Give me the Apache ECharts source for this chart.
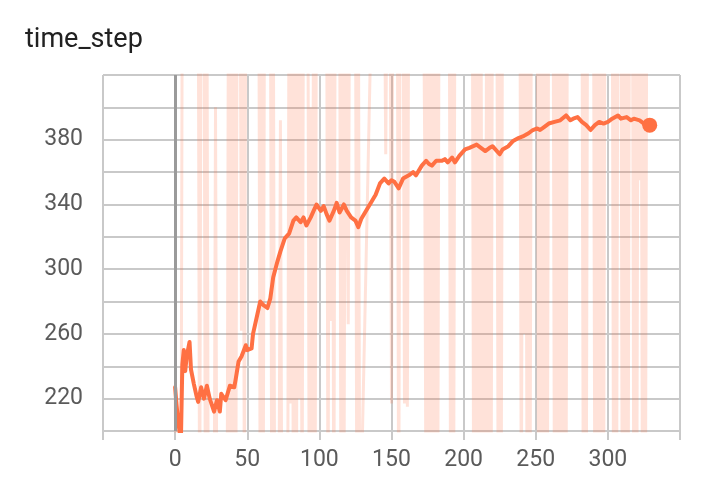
<!DOCTYPE html>
<html>
<head>
<meta charset="utf-8">
<script src="https://cdn.jsdelivr.net/npm/echarts@6/dist/echarts.min.js"></script>
<style>
html,body{margin:0;padding:0;background:#fff;}
#chart{width:722px;height:481px;}
</style>
</head>
<body>
<div id="chart"></div>
<script>
var titleText = 'time_step';
var xTickLabels = [0, 50, 100, 150, 200, 250, 300];
var yTickLabels = [220, 260, 300, 340, 380];

var smoothSteps = [0,1,2,3,4,5,6,7,8,10,11,13,15,16,18,20,22,24,27,29,31,32,35,38,41,42,44,46,49,50,53,54,57,59,61,64,66,68,71,73,76,79,82,84,87,89,91,94,96,98,101,103,105,107,110,112,114,117,119,122,125,127,129,133,135,139,142,145,148,150,152,155,158,162,165,167,171,174,176,178,181,185,187,189,192,194,197,201,204,209,212,215,218,220,225,227,231,234,238,241,245,248,251,253,256,259,263,267,271,274,276,279,282,285,288,291,294,297,300,303,307,309,313,316,318,322,325,329];
var smoothValues = [227,216,207,200,194,241,250,237,246,255,238,229,221,218,227,220,228,220,212,219,212,223,219,228,227,232,243,246,253,250,251,260,272,280,278,276,282,295,305,311,319,322,330,332,329,332,327,332,336,340,336,339,334,330,336,341,335,340,336,332,330,326,331,337,340,346,353,356,353,355,354,350,356,358,360,358,364,367,365,364,367,367,368,366,369,366,370,374,375,377,375,373,375,376,371,374,376,379,381,382,384,386,387,386,388,390,391,392,395,392,393,394,391,389,386,389,391,390,391,393,395,393,394,392,393,392,390,389];

var rawSteps = [0,1,4,5,16,17,18,20,21,22,23,27,28,29,36,37,38,39,40,41,42,43,45,46,47,48,49,58,59,60,61,62,66,67,68,69,72,73,74,78,79,80,81,82,83,84,85,86,87,88,89,92,93,94,95,96,97,98,105,106,107,108,109,110,111,114,115,116,117,118,119,120,121,125,126,127,128,137,145,146,147,149,150,151,154,155,156,158,159,160,161,162,172,173,174,175,176,177,178,179,180,181,182,183,190,191,192,193,194,206,207,208,209,210,211,212,213,214,215,216,217,218,219,220,223,224,225,226,227,239,240,241,242,243,244,245,246,247,251,252,253,254,255,256,257,258,259,262,263,264,265,266,267,268,269,270,271,272,282,283,284,285,286,290,291,292,293,294,295,296,297,298,303,304,305,306,307,309,310,311,312,313,314,315,317,318,319,320,321,322,323,324,325,326,327,329];
var rawValues = [228,130,110,500,500,120,500,500,130,500,120,120,400,120,120,500,140,500,120,500,110,500,500,262,500,150,500,500,130,500,120,500,500,130,500,140,140,392,130,130,500,217,500,120,500,110,500,220,500,130,500,500,120,400,130,500,140,500,500,130,500,268,500,120,500,500,130,500,120,500,500,266,500,500,120,500,120,500,500,371,500,500,217,500,500,120,500,500,217,500,215,500,500,378,120,500,130,500,120,500,110,500,120,500,500,130,500,120,500,500,120,500,110,500,130,500,120,380,120,500,130,500,120,500,500,120,500,130,500,500,130,500,260,500,140,500,120,500,500,120,500,130,500,120,500,125,500,500,130,500,140,500,120,500,130,500,150,500,500,130,500,140,500,500,120,500,130,500,150,500,130,500,500,120,500,130,500,500,120,500,140,500,120,500,500,130,500,120,500,355,500,130,500,120,500,500];

function zip(a, b) { var r = []; for (var i = 0; i < a.length; i++) r.push([a[i], b[i]]); return r; }

var chart = echarts.init(document.getElementById('chart'), null, {renderer: 'canvas'});
var gridColor = '#c9c9c9';
var labelColor = '#5a5a5a';
var font = 'Roboto, "Noto Sans", sans-serif';
var last = smoothSteps.length - 1;

chart.setOption({
  animation: false,
  backgroundColor: '#fff',
  title: {
    text: titleText, left: 20, top: 22,
    textStyle: {fontFamily: font, fontSize: 27, fontWeight: 'normal', color: '#212121'}
  },
  grid: {left: 103, right: 42, top: 75, bottom: 50, containLabel: false},
  xAxis: {
    type: 'value', min: -50, max: 350, interval: 50,
    axisLine: {show: true, lineStyle: {color: gridColor, width: 2}},
    axisTick: {show: true, length: 9, lineStyle: {color: gridColor, width: 2}},
    splitLine: {show: true, lineStyle: {color: gridColor, width: 2}},
    axisLabel: {
      margin: 18, color: labelColor, fontFamily: font, fontSize: 23,
      formatter: function (v) { return xTickLabels.indexOf(v) >= 0 ? String(v) : ''; }
    }
  },
  yAxis: {
    type: 'value', min: 200, max: 420, interval: 20,
    axisLine: {show: false},
    axisTick: {show: true, length: 10, lineStyle: {color: gridColor, width: 2}},
    splitLine: {show: true, lineStyle: {color: gridColor, width: 2}},
    axisLabel: {
      margin: 20, color: labelColor, fontFamily: font, fontSize: 23,
      formatter: function (v) { return yTickLabels.indexOf(v) >= 0 ? String(v) : ''; }
    }
  },
  series: [
    {
      type: 'line', data: zip(rawSteps, rawValues), showSymbol: false, symbol: 'none',
      clip: true, silent: true, z: 2,
      lineStyle: {color: '#ff7043', width: 3, opacity: 0.2},
      markLine: {
        silent: true, symbol: ['none', 'none'], label: {show: false},
        lineStyle: {color: '#9a9a9a', width: 3, type: 'solid'},
        data: [{xAxis: 0}]
      }
    },
    {
      type: 'line', data: zip(smoothSteps, smoothValues), showSymbol: false, symbol: 'none',
      clip: true, silent: true, z: 3,
      lineStyle: {color: '#ff7043', width: 4, join: 'round', cap: 'round'}
    },
    {
      type: 'scatter', data: [[smoothSteps[last], smoothValues[last]]],
      symbol: 'circle', symbolSize: 15, z: 4, silent: true,
      itemStyle: {color: '#ff7043', opacity: 1}
    }
  ]
});
</script>
</body>
</html>
